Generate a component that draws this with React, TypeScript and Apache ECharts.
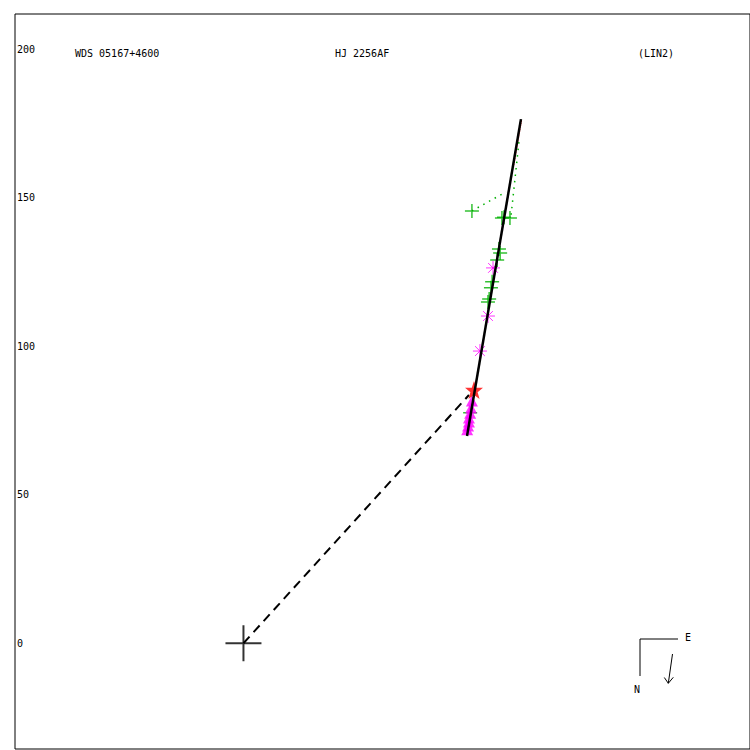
import React, { useEffect, useRef } from "react";
import * as echarts from "echarts";

// Axis tick labels (separation in arcsec-like units, y axis)
const yTickValues = [0, 50, 100, 150, 200];

// Primary star position
const primary = [[0, 0]];

// Linear fit (LIN2) endpoints
const fitLine = [
  [75.25, 69.8],
  [93.4, 176.5],
];
// red ephemeris segment showing beside the fit line
const redSegment = [
  [91.0, 161.0],
  [93.6, 175.9],
];
// dashed line from primary to predicted position
const dashedLine = [
  [0, 0],
  [75.9, 83.6],
];

// Latest measure (red star)
const starPoints = [[77.6, 85.3]];

// Magenta triangles
const trianglePoints = [
  [76.9, 81.6],
  [76.6, 79.2],
  [76.3, 77.5],
  [75.9, 75.9],
  [75.9, 74.5],
  [75.6, 73.2],
  [75.3, 71.9],
];

// Magenta asterisks
const asteriskPoints = [
  [84.0, 126.4],
  [82.3, 110.2],
  [79.6, 98.4],
];

// Green plus measures
const plusPoints = [
  [76.9, 145.6],
  [87.7, 143.5],
  [89.7, 143.2],
  [87.0, 143.2],
  [86.0, 132.8],
  [86.4, 131.4],
  [85.4, 129.1],
  [83.7, 121.7],
  [83.3, 119.7],
  [82.7, 115.9],
  [82.3, 114.9],
  [76.3, 77.6],
];

// O-C dotted residual lines (green)
const residual1 = [
  [76.9, 145.6],
  [88.4, 152.0],
];
const residual2 = [
  [90.1, 144.3],
  [92.8, 169.5],
];

const titleLeft = "WDS 05167+4600";
const titleMid = "HJ 2256AF";
const titleRight = "(LIN2)";

const FONT = "'DejaVu Sans Mono', monospace";
const GREEN = "#00b000";
const MAGENTA = "#ff00ff";

const plusPath = "path://M-10,0L10,0M0,-10L0,10";
const asteriskPath = "path://M-10,0L10,0M0,-10L0,10M-7,-7L7,7M-7,7L7,-7";
const starPath =
  "path://M0,-10L2.35,-3.24L9.51,-3.09L3.8,1.24L5.88,8.09L0,4L-5.88,8.09L-3.8,1.24L-9.51,-3.09L-2.35,-3.24Z";

export default function App() {
  const ref = useRef<HTMLDivElement>(null);
  useEffect(() => {
    if (!ref.current) return;
    const chart = echarts.init(ref.current, null, { renderer: "svg" });
    chart.setOption({
      animation: false,
      backgroundColor: "#fff",
      grid: {
        left: 15,
        top: 14,
        width: 735,
        height: 735,
        show: true,
        borderColor: "#000",
        borderWidth: 1,
        backgroundColor: "transparent",
      },
      xAxis: {
        type: "value",
        min: -76.9,
        max: 170.5,
        axisLine: { show: false },
        axisTick: { show: false },
        axisLabel: { show: false },
        splitLine: { show: false },
      },
      yAxis: {
        type: "value",
        min: -35.6,
        max: 211.9,
        axisLine: { show: false },
        axisTick: { show: false },
        splitLine: { show: false },
        axisLabel: {
          show: true,
          inside: true,
          margin: 2,
          customValues: yTickValues,
          color: "#000",
          fontFamily: FONT,
          fontSize: 10,
          align: "left",
        },
      },
      series: [
        {
          type: "line",
          data: redSegment,
          symbol: "none",
          lineStyle: { color: "#ff0000", width: 1, type: "dotted" },
          z: 1,
        },
        {
          type: "line",
          data: residual1,
          symbol: "none",
          lineStyle: { color: GREEN, width: 1.5, type: [1.5, 5] },
          z: 1,
        },
        {
          type: "line",
          data: residual2,
          symbol: "none",
          lineStyle: { color: GREEN, width: 1.5, type: [1.5, 5] },
          z: 1,
        },
        {
          type: "scatter",
          data: plusPoints,
          symbol: plusPath,
          symbolSize: 14,
          itemStyle: { color: "none", borderColor: GREEN, borderWidth: 1.5 },
          z: 2,
        },
        {
          type: "scatter",
          data: asteriskPoints,
          symbol: asteriskPath,
          symbolSize: 14,
          itemStyle: { color: "none", borderColor: MAGENTA, borderWidth: 1 },
          z: 2,
        },
        {
          type: "scatter",
          data: trianglePoints,
          symbol: "triangle",
          symbolSize: [12, 11],
          itemStyle: { color: MAGENTA },
          z: 3,
        },
        {
          type: "line",
          data: dashedLine,
          symbol: "none",
          lineStyle: { color: "#000", width: 2, type: [9, 6] },
          z: 4,
        },
        {
          type: "scatter",
          data: starPoints,
          symbol: starPath,
          symbolSize: 18,
          itemStyle: { color: "#ff0000" },
          z: 4,
        },
        {
          type: "line",
          data: fitLine,
          symbol: "none",
          lineStyle: { color: "#000", width: 2.5 },
          z: 5,
        },
        {
          type: "scatter",
          data: primary,
          symbol: plusPath,
          symbolSize: 36,
          itemStyle: { color: "none", borderColor: "#000", borderWidth: 2 },
          z: 5,
        },
      ],
      graphic: [
        {
          type: "text",
          left: 75,
          top: 48,
          style: { text: titleLeft, font: `10px ${FONT}`, fill: "#000" },
        },
        {
          type: "text",
          left: 335,
          top: 48,
          style: { text: titleMid, font: `10px ${FONT}`, fill: "#000" },
        },
        {
          type: "text",
          left: 638,
          top: 48,
          style: { text: titleRight, font: `10px ${FONT}`, fill: "#000" },
        },
        {
          type: "polyline",
          shape: { points: [[640, 676], [640, 639], [678, 639]] },
          style: { stroke: "#000", lineWidth: 1, fill: "none" },
        },
        {
          type: "text",
          left: 685,
          top: 632,
          style: { text: "E", font: `10px ${FONT}`, fill: "#000" },
        },
        {
          type: "text",
          left: 634,
          top: 684,
          style: { text: "N", font: `10px ${FONT}`, fill: "#000" },
        },
        {
          type: "line",
          shape: { x1: 672.5, y1: 654, x2: 668.3, y2: 683.3 },
          style: { stroke: "#000", lineWidth: 1 },
        },
        {
          type: "polyline",
          shape: { points: [[664.3, 677.5], [668.3, 683.3], [673.3, 677.3]] },
          style: { stroke: "#000", lineWidth: 1, fill: "none" },
        },
      ],
    });
    return () => chart.dispose();
  }, []);
  return (
    <div
      ref={ref}
      style={{ position: "fixed", left: 0, top: 0, width: 750, height: 750 }}
    />
  );
}
